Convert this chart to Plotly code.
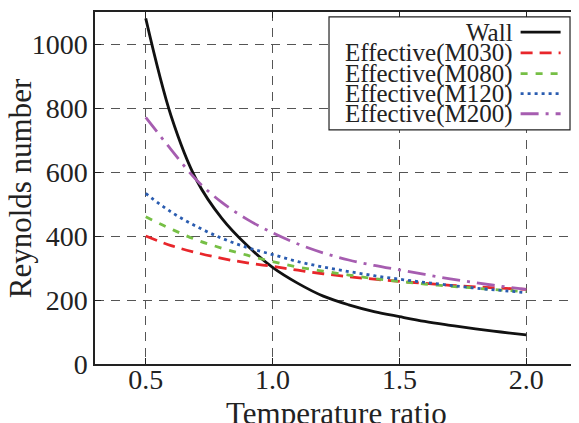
import plotly.graph_objects as go

# razão de temperatura (eixo x)
temperatura = [0.5, 0.6, 0.7, 0.8, 0.9, 1.0, 1.1, 1.2, 1.3, 1.4, 1.5, 1.6, 1.7, 1.8, 1.9, 2.0]

# número de Reynolds
re_wall = [1080, 775, 575, 455, 370, 302, 252, 212, 185, 164, 148, 133, 121, 110, 100, 91]
re_m030 = [400, 370, 348, 330, 316, 305, 293, 282, 273, 265, 258, 252, 246, 241, 237, 233]
re_m080 = [460, 422, 388, 362, 340, 320, 303, 290, 278, 267, 258, 250, 243, 237, 231, 226]
re_m120 = [533, 475, 430, 393, 364, 342, 320, 303, 289, 276, 265, 255, 246, 237, 230, 223]
re_m200 = [771, 670, 575, 505, 452, 410, 375, 347, 325, 308, 294, 280, 266, 254, 243, 233]

nomes = ["Wall", "Effective(M030)", "Effective(M080)", "Effective(M120)", "Effective(M200)"]
series = [re_wall, re_m030, re_m080, re_m120, re_m200]
cores = ["#111111", "#e8262b", "#76bf45", "#2a5cb0", "#a65db0"]
tracos = ["solid", "12px,7px", "7px,8px", "3px,4px", "18px,7px,3px,7px"]

x_ticks = [0.5, 1.0, 1.5, 2.0]
y_ticks = [0, 200, 400, 600, 800, 1000]

FONTE = "Liberation Serif, Times New Roman, serif"

fig = go.Figure()
for nome, ys, cor, dash in zip(nomes, series, cores, tracos):
    fig.add_trace(go.Scatter(x=temperatura, y=ys, mode="lines", name=nome,
                             line=dict(color=cor, width=2.8, dash=dash, shape="spline"),
                             showlegend=False))

# legenda manual (texto à esquerda, amostra da linha à direita)
linhas_y = [0.943, 0.884, 0.825, 0.768, 0.711]
shapes = [dict(type="rect", xref="paper", yref="paper", x0=0.4855, x1=0.9855, y0=0.665, y1=0.986,
               line=dict(color="#222", width=1.2), fillcolor="white", layer="above")]
anots = []
for nome, cor, dash, yy in zip(nomes, cores, tracos, linhas_y):
    shapes.append(dict(type="line", xref="paper", yref="paper", x0=0.883, x1=0.966, y0=yy, y1=yy,
                       line=dict(color=cor, width=2.8, dash=dash), layer="above"))
    anots.append(dict(text=nome, xref="paper", yref="paper", x=0.872, y=yy, xanchor="right",
                      yanchor="middle", showarrow=False, font=dict(family=FONTE, size=25, color="#222")))

# títulos dos eixos como anotações para posicionar igual ao original
anots.append(dict(text="Temperature ratio", xref="paper", yref="paper", x=0.5, y=-0.085,
                  xanchor="center", yanchor="top", showarrow=False,
                  font=dict(family=FONTE, size=31, color="#222")))
anots.append(dict(text="Reynolds number", xref="paper", yref="paper", x=-0.155, y=0.5,
                  xanchor="center", yanchor="middle", textangle=-90, showarrow=False,
                  font=dict(family=FONTE, size=31, color="#222")))

eixo = dict(showline=True, linecolor="#222", linewidth=1.5, mirror="ticks", ticks="inside",
            ticklen=6, tickcolor="#222", showgrid=True, gridcolor="#555", gridwidth=1,
            griddash="9px,7px", zeroline=False, automargin=False,
            tickfont=dict(family=FONTE, size=28, color="#222"))

# a página tem margem de 8px no body, então a figura é 8px menor
fig.update_layout(
    width=571, height=415,
    margin=dict(l=87, r=2, t=4, b=59),
    paper_bgcolor="white", plot_bgcolor="white",
    font=dict(family=FONTE, color="#222"),
    xaxis=dict(eixo, range=[0.3, 2.2], tickvals=x_ticks, tickformat=".1f", ticklabelstandoff=-10),
    yaxis=dict(eixo, range=[0, 1100], tickvals=y_ticks),
    shapes=shapes, annotations=anots,
)

fig.write_html("out.html")
